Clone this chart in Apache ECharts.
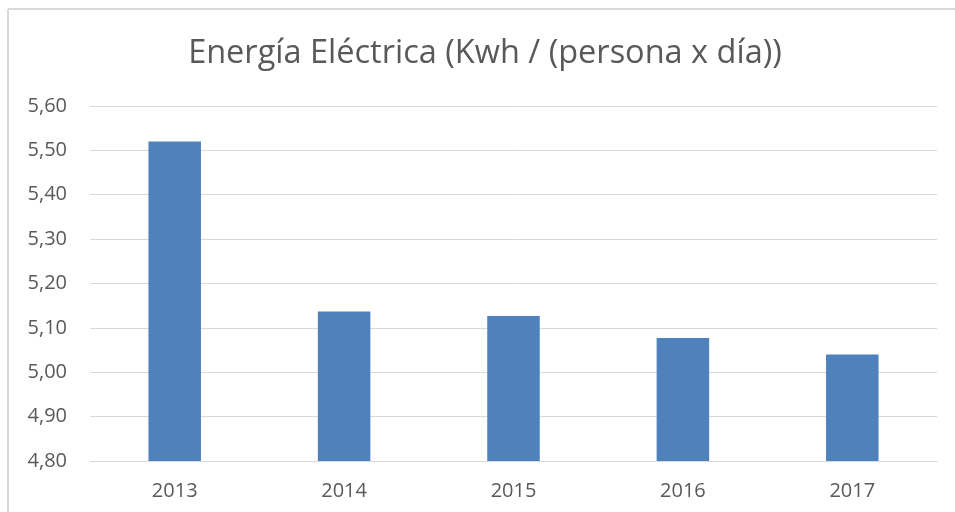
<!DOCTYPE html>
<html>
<head>
<meta charset="utf-8">
<script src="https://cdn.jsdelivr.net/npm/echarts@6/dist/echarts.min.js"></script>
<style>
html,body{margin:0;padding:0;background:#fff;}
#c{width:955px;height:512px;}
</style>
</head>
<body>
<div id="c"></div>
<script>
var titleText = 'Energía Eléctrica (Kwh / (persona x día))';
var categories = ['2013', '2014', '2015', '2016', '2017'];
var values = [5.52, 5.137, 5.127, 5.077, 5.04];
var yMin = 4.8, yMax = 5.6, yStep = 0.1;

var chart = echarts.init(document.getElementById('c'), null, {renderer: 'canvas'});
var font = '"Open Sans", sans-serif';
chart.setOption({
  animation: false,
  backgroundColor: '#fff',
  title: {
    text: titleText,
    left: 485,
    textAlign: 'center',
    top: 37,
    padding: 0,
    textStyle: {fontFamily: font, fontSize: 32.5, fontWeight: 'normal', color: '#595959'}
  },
  graphic: [
    {type: 'line', shape: {x1: 8, y1: 9, x2: 8, y2: 512}, style: {stroke: '#d9d9d9', lineWidth: 2}},
    {type: 'line', shape: {x1: 8, y1: 9, x2: 955, y2: 9}, style: {stroke: '#d9d9d9', lineWidth: 2}}
  ],
  grid: {left: 90, right: 18, top: 106, bottom: 51, containLabel: false},
  xAxis: {
    type: 'category',
    data: categories,
    axisLine: {lineStyle: {color: '#d9d9d9', width: 1}},
    axisTick: {show: false},
    axisLabel: {fontFamily: font, fontSize: 20, color: '#595959', margin: 20}
  },
  yAxis: {
    type: 'value',
    min: yMin, max: yMax, interval: yStep,
    axisLine: {show: false},
    axisTick: {show: false},
    splitLine: {lineStyle: {color: '#d9d9d9', width: 1}},
    axisLabel: {
      fontFamily: font, fontSize: 20, color: '#595959', margin: 23,
      padding: [3, 0, 0, 0],
      formatter: function (v) { return v.toFixed(2).replace('.', ','); }
    }
  },
  series: [{
    type: 'bar',
    data: values,
    barWidth: '31%',
    itemStyle: {color: '#4f81bd'}
  }]
});
</script>
</body>
</html>
